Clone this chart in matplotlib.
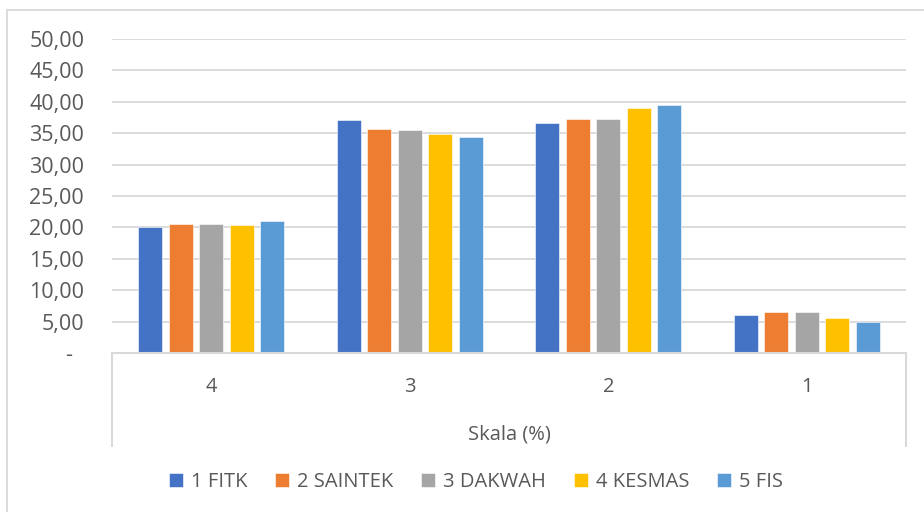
import matplotlib
matplotlib.use("Agg")
import matplotlib.pyplot as plt
from matplotlib.lines import Line2D
from matplotlib.ticker import FuncFormatter
import numpy as np

categories = ["4", "3", "2", "1"]
series_names = ["1 FITK", "2 SAINTEK", "3 DAKWAH", "4 KESMAS", "5 FIS"]
fitk = [20.0, 37.1, 36.7, 6.0]
saintek = [20.5, 35.6, 37.25, 6.5]
dakwah = [20.5, 35.5, 37.25, 6.6]
kesmas = [20.35, 34.9, 38.95, 5.6]
fis = [20.95, 34.45, 39.5, 4.95]
colors = ["#4472C4", "#ED7D31", "#A5A5A5", "#FFC000", "#5B9BD5"]
x_title = "Skala (%)"

plt.rcParams['font.family'] = ['Open Sans', 'DejaVu Sans']
W, H = 924, 512
fig = plt.figure(figsize=(W / 100, H / 100), dpi=100)

L, R, B, T = 112, 906, 353, 39
ax = fig.add_axes([L / W, (H - B) / H, (R - L) / W, (B - T) / H])

grid_c = "#D9D9D9"
text_c = "#595959"
fs = 14.5

x = np.arange(len(categories))
step, width = 0.154, 0.121
all_series = [fitk, saintek, dakwah, kesmas, fis]
for j, (vals, name, c) in enumerate(zip(all_series, series_names, colors)):
    ax.bar(x + (j - 2) * step, vals, width, color=c, label=name, zorder=3,
           edgecolor="white", linewidth=0.4)

ax.set_xlim(-0.5, len(categories) - 0.5)
ax.set_ylim(0, 50)
ax.set_yticks(np.arange(0, 50.1, 5))
ax.yaxis.set_major_formatter(FuncFormatter(
    lambda v, p: "-  " if abs(v) < 1e-9 else f"{v:.2f}".replace(".", ",")))
ax.grid(axis="y", color=grid_c, linewidth=1.3, zorder=0)
ax.set_axisbelow(True)
for s in ["top", "right", "left"]:
    ax.spines[s].set_visible(False)
ax.spines["bottom"].set_color(grid_c)
ax.spines["bottom"].set_linewidth(1.5)
ax.spines["bottom"].set_zorder(4)

ax.set_xticks(x)
ax.set_xticklabels(categories)
ax.tick_params(axis="y", length=0, pad=20, labelsize=15.5, labelcolor=text_c)
ax.tick_params(axis="x", length=0, pad=17, labelsize=fs, labelcolor=text_c)
ax.set_xlabel(x_title, fontsize=fs, color=text_c, labelpad=20)

# multi-level category box lines
y_bot = 1 - 446 / H
for xp in (L, R):
    fig.add_artist(Line2D([xp / W, xp / W], [1 - B / H, y_bot], color=grid_c, lw=1.5))

# outer chart border (extends beyond canvas on right/bottom)
fig.add_artist(Line2D([7 / W, 1.0], [1 - 10 / H, 1 - 10 / H], color=grid_c, lw=1.3))
fig.add_artist(Line2D([7 / W, 7 / W], [1 - 10 / H, 0.0], color=grid_c, lw=1.3))

handles, labels = ax.get_legend_handles_labels()
fig.legend(handles, labels, loc="center", bbox_to_anchor=(476 / W, 1 - 482 / H),
           ncol=5, frameon=False, fontsize=fs, labelcolor=text_c,
           handlelength=0.72, handleheight=0.72, handletextpad=0.4,
           columnspacing=1.35, borderpad=0)

fig.savefig("out.png", dpi=100)
